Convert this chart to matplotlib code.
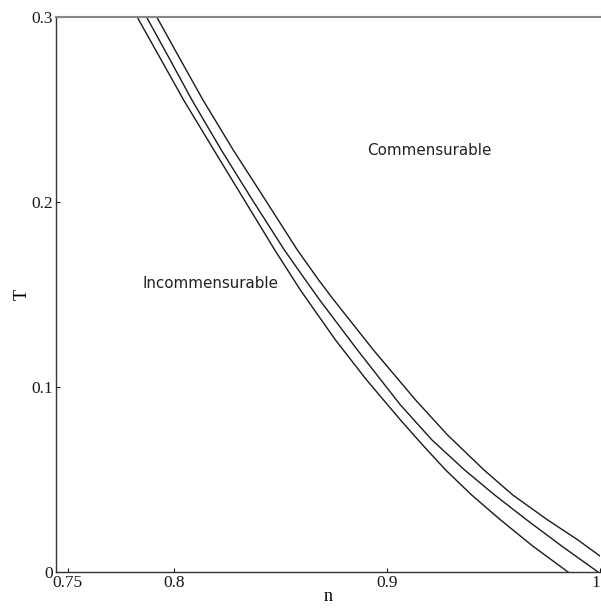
import numpy as np
import matplotlib.pyplot as plt

# punkty: n (gestosc) i T (temperatura)
n_linia1 = [0.7827, 0.7940, 0.8045, 0.8187, 0.8330, 0.8473, 0.8593, 0.8758,
            0.8904, 0.9063, 0.9167, 0.9275, 0.9397, 0.9533, 0.9684, 0.9853]
T_linia1 = [0.3000, 0.2768, 0.2552, 0.2282, 0.2012, 0.1742, 0.1526, 0.1256,
            0.1040, 0.0824, 0.0689, 0.0554, 0.0419, 0.0284, 0.0143, 0.0]

n_linia2 = [0.7871, 0.7982, 0.8084, 0.8222, 0.8368, 0.8518, 0.8617, 0.8684,
            0.8861, 0.9063, 0.9211, 0.9364, 0.9505, 0.9656, 0.9820, 0.9994]
T_linia2 = [0.3000, 0.2768, 0.2552, 0.2282, 0.2012, 0.1742, 0.1580, 0.1472,
            0.1202, 0.0905, 0.0716, 0.0554, 0.0419, 0.0284, 0.0143, 0.0]

n_linia3 = [0.7919, 0.8031, 0.8136, 0.8278, 0.8429, 0.8579, 0.8679, 0.8750,
            0.8936, 0.9134, 0.9284, 0.9455, 0.9590, 0.9754, 0.9896, 1.0]
T_linia3 = [0.3000, 0.2768, 0.2552, 0.2282, 0.2012, 0.1742, 0.1580, 0.1472,
            0.1202, 0.0932, 0.0743, 0.0554, 0.0419, 0.0284, 0.0176, 0.0089]

xticki = [0.75, 0.8, 0.9, 1.0]
xetykiety = ['0.75', '0.8', '0.9', '1']
yticki = [0, 0.1, 0.2, 0.3]
yetykiety = ['0', '0.1', '0.2', '0.3']

rys = plt.figure(figsize=(6.01, 6.10), dpi=100)
os = rys.add_axes([0.0932, 0.0615, 0.9051, 0.9106])

for n, T in [(n_linia1, T_linia1), (n_linia2, T_linia2), (n_linia3, T_linia3)]:
    os.plot(n, T, color='#1a1a1a', lw=1.0, solid_joinstyle='round')

os.set_xlim(0.7446, 1.0)
os.set_ylim(0, 0.3)

os.set_xticks(xticki)
os.set_xticklabels(xetykiety)
os.set_yticks(yticki)
os.set_yticklabels(yetykiety)

os.tick_params(direction='in', length=3, width=0.8, labelsize=12.5,
               colors='#1a1a1a')
os.tick_params(axis='x', pad=1.5)
os.tick_params(axis='y', pad=2)
for et in os.get_xticklabels() + os.get_yticklabels():
    et.set_fontfamily('Liberation Serif')
# ostatnia etykieta przy samej krawedzi
os.get_xticklabels()[-1].set_horizontalalignment('right')

os.spines['right'].set_visible(False)
os.spines['top'].set_color('#888888')
os.spines['top'].set_linewidth(1.5)
os.spines['left'].set_color('#333333')
os.spines['bottom'].set_color('#333333')
os.spines['left'].set_linewidth(1.0)
os.spines['bottom'].set_linewidth(1.0)

os.set_xlabel('n', fontfamily='Liberation Serif', fontsize=13, labelpad=-2)
os.set_ylabel('T', fontfamily='Liberation Serif', fontsize=13, labelpad=1)

os.text(0.9197, 0.228, 'Commensurable', ha='center', va='center',
        fontsize=10.9, color='#222222', fontfamily='DejaVu Sans')
os.text(0.8170, 0.1563, 'Incommensurable', ha='center', va='center',
        fontsize=10.9, color='#222222', fontfamily='DejaVu Sans')

plt.savefig('out.png')
